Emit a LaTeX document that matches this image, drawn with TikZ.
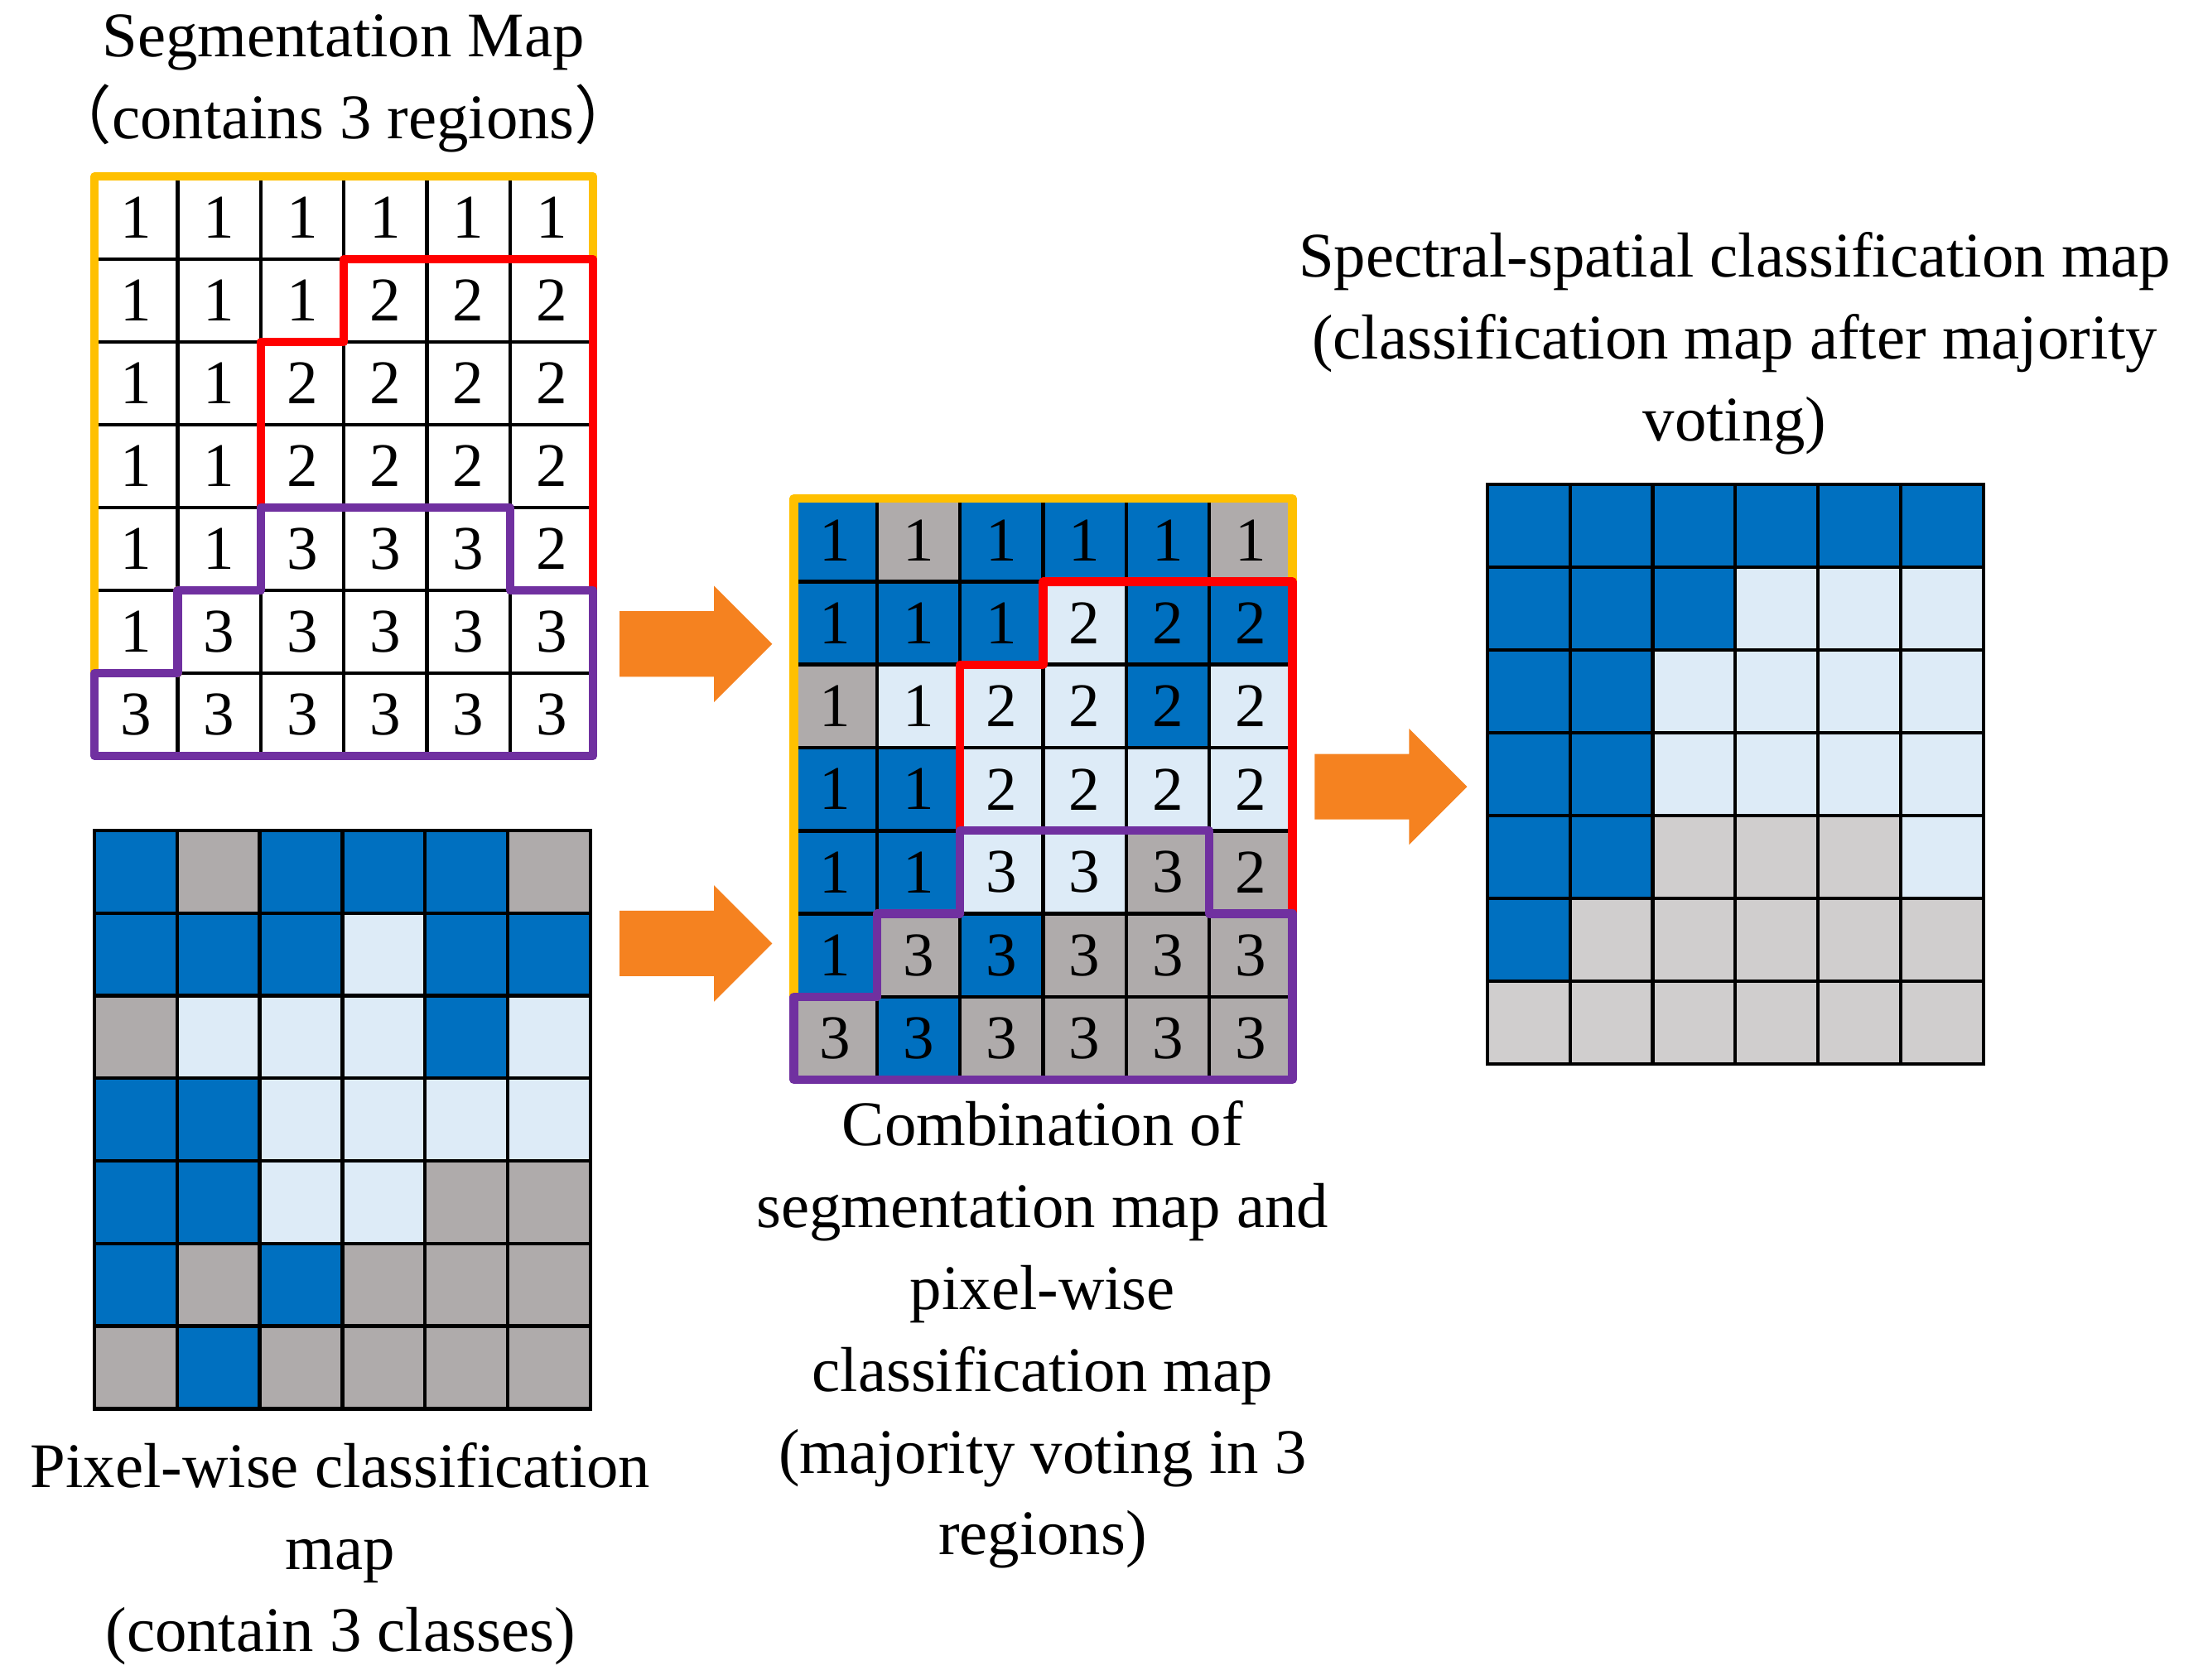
\documentclass[tikz,border=0pt]{standalone}
\usepackage{fontspec}
\setmainfont{Liberation Serif}
\newfontfamily\cjk{Noto Sans CJK SC}
\usetikzlibrary{shapes.arrows}
\definecolor{B}{HTML}{0070C0}
\definecolor{L}{HTML}{DDEBF7}
\definecolor{G}{HTML}{AFABAB}
\definecolor{H}{HTML}{D0CECE}
\definecolor{W}{HTML}{FFFFFF}
\definecolor{orng}{HTML}{F58220}
\definecolor{regY}{HTML}{FFC000}
\definecolor{regR}{HTML}{FF0000}
\definecolor{regP}{HTML}{7030A0}
\begin{document}
\begin{tikzpicture}[x=1pt,y=-1pt,
  cell/.style={draw=black,line width=2.5pt,minimum width=58.8pt,minimum height=58.6pt,inner sep=0pt,font=\fontsize{44}{44}\selectfont},
  lbl/.style={align=center,font=\fontsize{45}{58}\selectfont,inner sep=0pt},
  bigarrow/.style={single arrow,fill=orng,draw=none,minimum height=108pt,minimum width=82pt,single arrow head extend=18pt,inner xsep=0pt,inner ysep=23pt},
  reg/.style={line width=6pt,line cap=round,line join=round}]
\useasboundingbox (0,0) rectangle (1563,1189);
% grid 1: segmentation map
\foreach \row [count=\r from 0] in {{1,1,1,1,1,1},{1,1,1,2,2,2},{1,1,2,2,2,2},{1,1,2,2,2,2},{1,1,3,3,3,2},{1,3,3,3,3,3},{3,3,3,3,3,3}}{
  \foreach \v [count=\c from 0] in \row {
    \node[cell,fill=white] (a-\r-\c) at ({67+(\c+0.5)*58.8},{125+(\r+0.5)*58.6}) {\v};}}
% grid 2: pixel-wise
\foreach \row [count=\r from 0] in {{B,G,B,B,B,G},{B,B,B,L,B,B},{G,L,L,L,B,L},{B,B,L,L,L,L},{B,B,L,L,G,G},{B,G,B,G,G,G},{G,B,G,G,G,G}}{
  \foreach \v [count=\c from 0] in \row {
    \node[cell,fill=\v] (b-\r-\c) at ({67+(\c+0.5)*58.5},{588+(\r+0.5)*58.5}) {};}}
% grid 3: combination
\foreach \row [count=\r from 0] in {{B/1,G/1,B/1,B/1,B/1,G/1},{B/1,B/1,B/1,L/2,B/2,B/2},{G/1,L/1,L/2,L/2,B/2,L/2},{B/1,B/1,L/2,L/2,L/2,L/2},{B/1,B/1,L/3,L/3,G/3,G/2},{B/1,G/3,B/3,G/3,G/3,G/3},{G/3,B/3,G/3,G/3,G/3,G/3}}{
  \foreach \k/\v [count=\c from 0] in \row {
    \node[cell,fill=\k] (c-\r-\c) at ({562+(\c+0.5)*58.8},{353+(\r+0.5)*58.8}) {\v};}}
% grid 4: final
\foreach \row [count=\r from 0] in {{B,B,B,B,B,B},{B,B,B,L,L,L},{B,B,L,L,L,L},{B,B,L,L,L,L},{B,B,H,H,H,L},{B,H,H,H,H,H},{H,H,H,H,H,H}}{
  \foreach \v [count=\c from 0] in \row {
    \node[cell,fill=\v] (d-\r-\c) at ({1053+(\c+0.5)*58.5},{343+(\r+0.5)*58.6}) {};}}
% region borders
\foreach \ox/\oy/\w/\h in {67/125/58.8/58.6, 562/353/58.8/58.8}{
\begin{scope}[shift={(\ox,\oy)},x=\w pt,y=-\h pt]
  \draw[reg,regY] (0,6) -- (0,0) -- (6,0) -- (6,1);
  \draw[reg,regY] (1,6) -- (1,5);
  \draw[reg,regR] (2,4) -- (2,2) -- (3,2) -- (3,1) -- (6,1) -- (6,5);
  \draw[reg,regP] (2,5) -- (2,4) -- (5,4) -- (5,5) -- (6,5) -- (6,7) -- (0,7) -- (0,6) -- (1,6) -- (1,5) -- (2,5);
\end{scope}}
% arrows
\node[bigarrow] (ar1) at (481,456) {};
\node[bigarrow] (ar2) at (481,668) {};
\node[bigarrow] (ar3) at (973,557) {};
% labels
\node[lbl] (t1) at (243,59) {Segmentation Map\\{\cjk （}contains 3 regions{\cjk ）}};
\node[lbl] (t2) at (1228,243) {Spectral-spatial classification map\\(classification map after majority\\voting)};
\node[lbl] (t3) at (241,1100) {Pixel-wise classification\\map\\(contain 3 classes)};
\node[lbl] (t4) at (738,945) {Combination of\\segmentation map and\\pixel-wise\\classification map\\(majority voting in 3\\regions)};
\end{tikzpicture}
\end{document}
